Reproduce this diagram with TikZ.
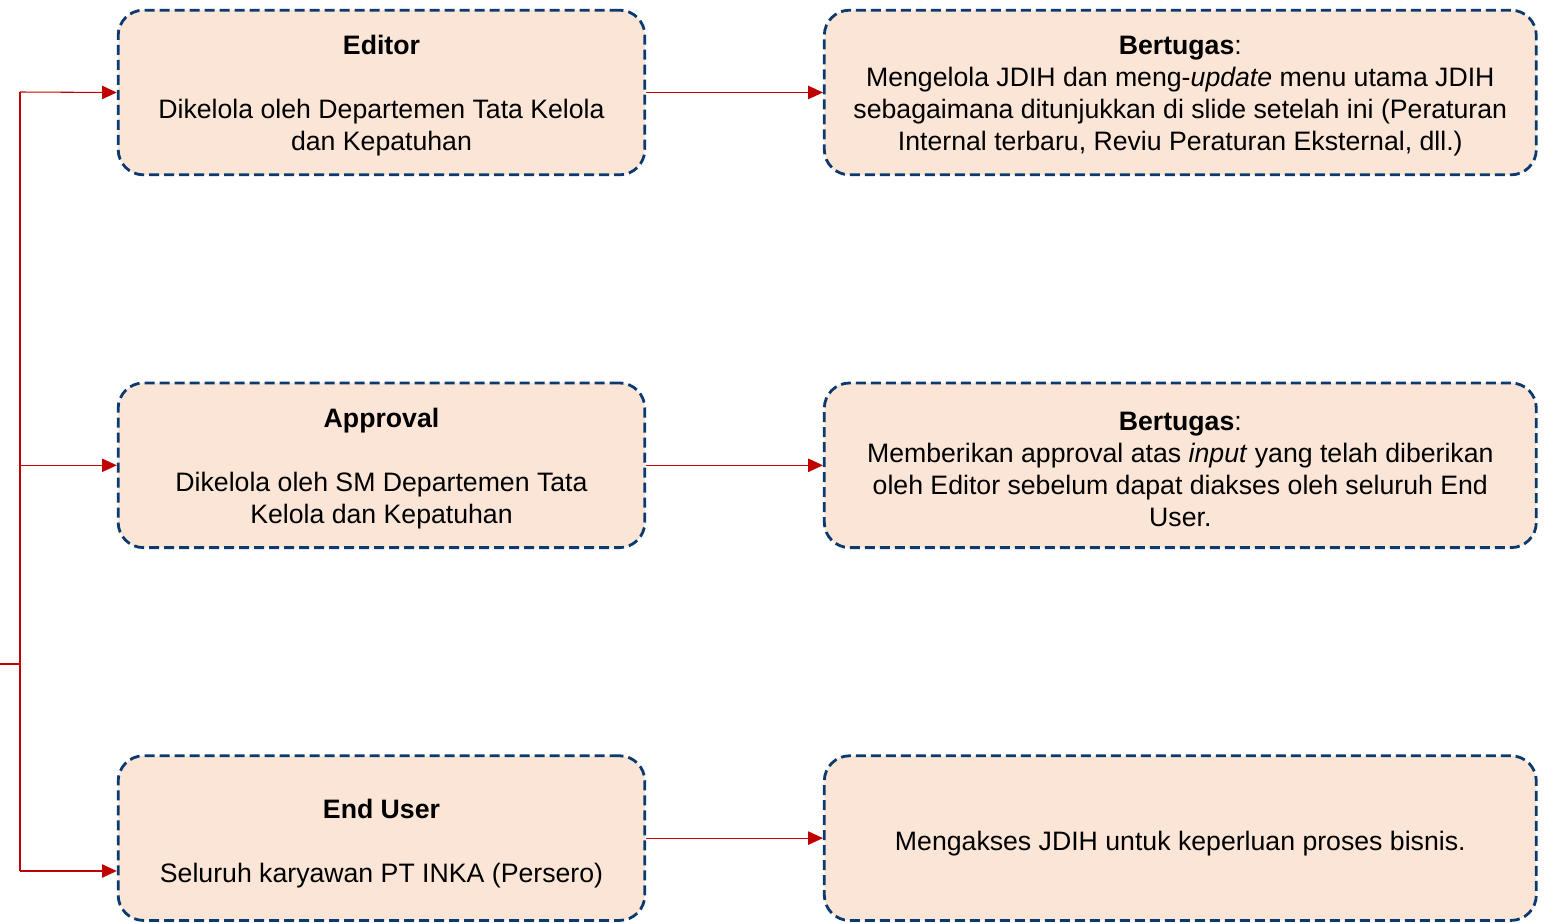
\documentclass[tikz,border=0pt]{standalone}
\usepackage{fontspec}
\setmainfont{Liberation Sans}
\usepackage{xcolor}
\usetikzlibrary{arrows.meta,positioning}

\definecolor{boxfill}{HTML}{FBE5D6}
\definecolor{boxline}{HTML}{0D3A6E}
\definecolor{linkred}{HTML}{C00000}

\newcommand{\topgap}{\rule{0pt}{19.5pt}}

\begin{document}
\begin{tikzpicture}[
    x=0.75pt, y=-0.75pt,
    node distance=154pt and 132.5pt,
    rolebox/.style={rectangle, draw=boxline, fill=boxfill, line width=2.1pt, dash pattern=on 7.5pt off 3.75pt,
        rounded corners=19pt, minimum width=395pt, minimum height=123.5pt, align=center,
        font=\fontsize{20}{24}\selectfont},
    taskbox/.style={rolebox, minimum width=534pt},
    link/.style={linkred, line width=0.8pt},
    arrow/.style={link, -{Triangle[length=11pt,width=10pt]}}
]
    \useasboundingbox (0,0) rectangle (1547,922);

    \node[rolebox] (editor) at (381.5,92.5) {\topgap\textbf{Editor}\\[24pt]Dikelola oleh Departemen Tata Kelola\\dan Kepatuhan};
    \node[rolebox, below=of editor] (approval) {\topgap\textbf{Approval}\\[24pt]Dikelola oleh SM Departemen Tata\\Kelola dan Kepatuhan};
    \node[rolebox, below=of approval] (enduser) {\rule{0pt}{22pt}\textbf{End User}\\[24pt]Seluruh karyawan PT INKA (Persero)};

    \node[taskbox, right=of editor] (editortask) {\topgap\textbf{Bertugas}:\\Mengelola JDIH dan meng-\textit{update} menu utama JDIH\\sebagaimana ditunjukkan di slide setelah ini (Peraturan\\Internal terbaru, Reviu Peraturan Eksternal, dll.)};
    \node[taskbox, right=of approval] (approvaltask) {\topgap\textbf{Bertugas}:\\Memberikan approval atas \textit{input} yang telah diberikan\\oleh Editor sebelum dapat diakses oleh seluruh End\\User.};
    \node[taskbox, right=of enduser] (endusertask) {\rule{0pt}{22pt}Mengakses JDIH untuk keperluan proses bisnis.};

    % trunk on the left
    \coordinate (trunktop) at (20,92);
    \coordinate (trunkbot) at (20,871);
    \coordinate (stub) at (0,664);
    \draw[link] (trunktop) -- (trunkbot);
    \draw[link] (stub) -- (trunktop |- stub);

    \draw[arrow] (trunktop) -- (editor.west);
    \draw[arrow] (trunktop |- approval.west) -- (approval.west);
    \draw[arrow] (trunkbot) -- (enduser.west |- trunkbot);

    \draw[arrow] (editor) -- (editortask);
    \draw[arrow] (approval) -- (approvaltask);
    \draw[arrow] (enduser) -- (endusertask);
\end{tikzpicture}
\end{document}
